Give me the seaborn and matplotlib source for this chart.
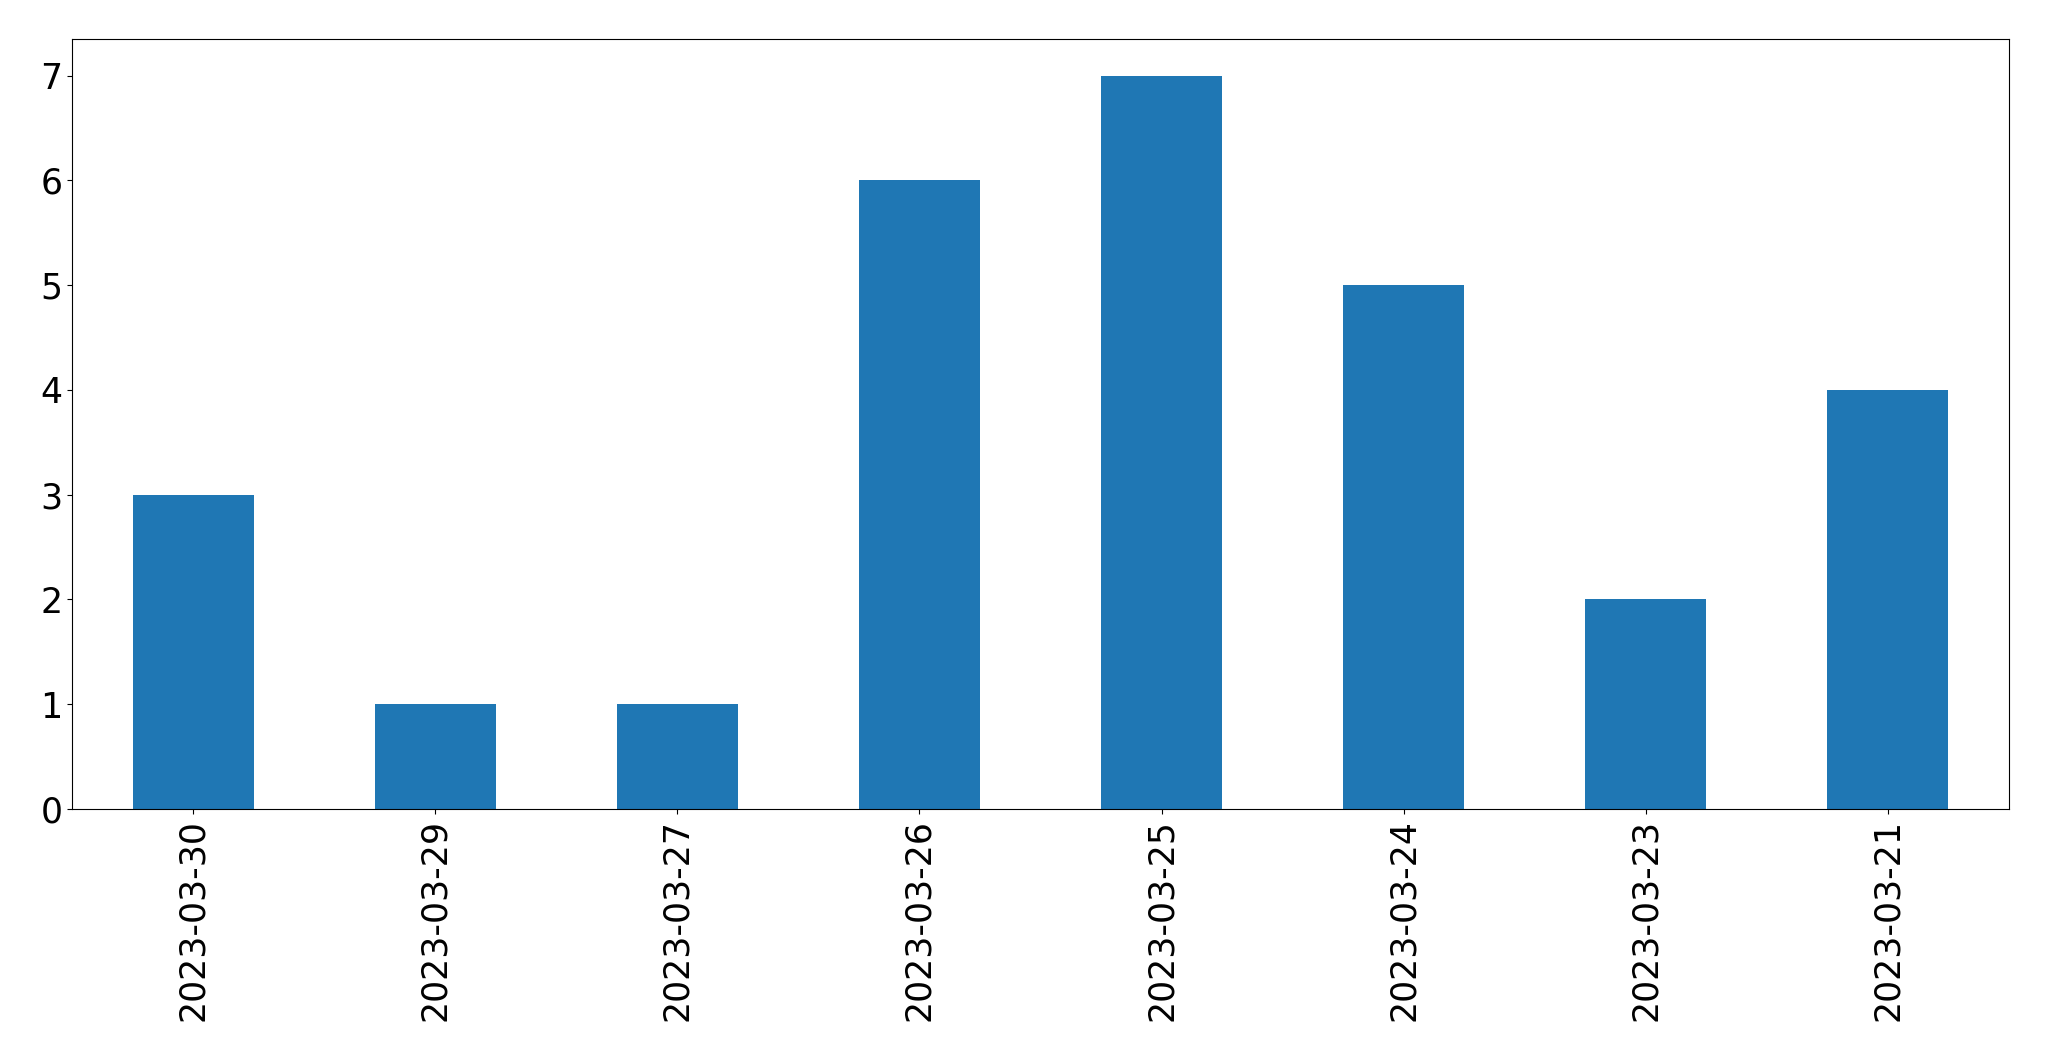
import matplotlib
matplotlib.use("Agg")
import matplotlib.pyplot as plt
import seaborn as sns
import pandas as pd

dates = ["2023-03-30", "2023-03-29", "2023-03-27", "2023-03-26",
         "2023-03-25", "2023-03-24", "2023-03-23", "2023-03-21"]
counts = [3, 1, 1, 6, 7, 5, 2, 4]

df = pd.DataFrame({"date": dates, "count": counts})

fig, ax = plt.subplots(figsize=(20.49, 10.61), dpi=100)
sns.barplot(data=df, x="date", y="count", color="#1f77b4", saturation=1,
            width=0.5, linewidth=0, ax=ax)
ax.set_xlim(-0.5, len(dates) - 0.5)
ax.set_ylim(0, 7.35)
ax.set_xlabel("")
ax.set_ylabel("")
ax.tick_params(axis="both", labelsize=25)
plt.setp(ax.get_xticklabels(), rotation=90)
fig.subplots_adjust(left=72 / 2049, right=2009 / 2049,
                    top=1 - 39 / 1061, bottom=1 - 809 / 1061)
fig.savefig("out.png", dpi=100)
